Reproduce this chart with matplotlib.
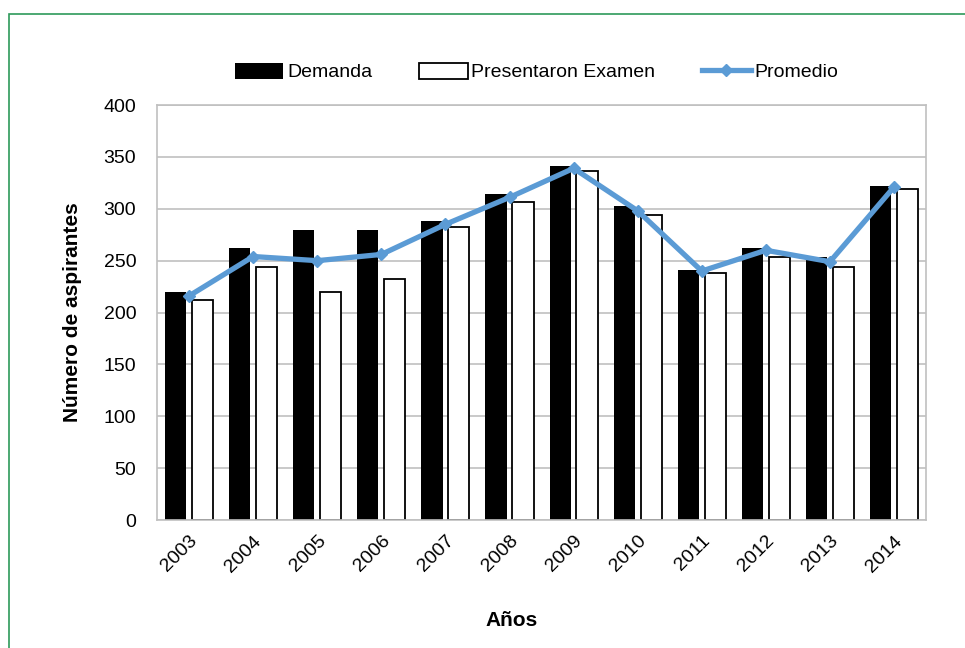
import numpy as np
import matplotlib
matplotlib.use('Agg')
import matplotlib.pyplot as plt
from matplotlib.patches import Rectangle

plt.rcParams['font.family'] = ['Liberation Sans', 'DejaVu Sans']

years = ['2003', '2004', '2005', '2006', '2007', '2008',
         '2009', '2010', '2011', '2012', '2013', '2014']
demanda = [220, 262, 280, 280, 288, 314, 341, 303, 241, 262, 254, 322]
presentaron = [212, 244, 220, 232, 282, 307, 336, 294, 238, 254, 244, 319]
promedio = [216, 254, 250, 256, 285, 311, 339, 298, 240, 260, 249, 321]

x = np.arange(len(years))
w = 0.33

fig = plt.figure(figsize=(9.65, 6.48), dpi=100)
ax = fig.add_axes([0.1627, 0.1975, 0.797, 0.6404])

# green frame of the original page box (only top and left are visible)
fig.patches.append(Rectangle((0.0093, -0.2), 1.2, 1.178, transform=fig.transFigure,
                             fill=False, edgecolor='#2e9a5a', linewidth=1.2))

b1 = ax.bar(x - 0.21, demanda, w, color='black', label='Demanda', zorder=2)
b2 = ax.bar(x + 0.21, presentaron, w, color='white', edgecolor='black', linewidth=1.3,
            label='Presentaron Examen', zorder=2)
l1, = ax.plot(x, promedio, color='#5b9bd5', linewidth=3.8, marker='D', markersize=6,
              label='Promedio', zorder=3)

ax.set_xlim(-0.5, len(years) - 0.5)
ax.set_ylim(0, 400)
ax.set_yticks(range(0, 401, 50))
ax.set_xticks(x)
ax.set_xticklabels(years, rotation=45, ha='right', rotation_mode='anchor', fontsize=14)
ax.tick_params(axis='y', labelsize=14, length=0, pad=15)
ax.tick_params(axis='x', length=0, pad=9)
ax.yaxis.grid(True, color='#c0c0c0', linewidth=1.2, zorder=0)
ax.set_axisbelow(True)
for s in ax.spines.values():
    s.set_color('#c0c0c0')
    s.set_linewidth(1.2)

ax.set_ylabel('Número de aspirantes', fontsize=15, fontweight='bold')
ax.yaxis.set_label_coords(-0.098, 0.5)
ax.set_xlabel('Años', fontsize=15, fontweight='bold')
ax.xaxis.set_label_coords(0.461, -0.22)

fig.legend([b1, b2, l1], ['Demanda', 'Presentaron Examen', 'Promedio'],
           loc='center', bbox_to_anchor=(0.556, 0.889), ncol=3, frameon=False,
           fontsize=14, handlelength=2.5, handleheight=0.9, handletextpad=0.2,
           columnspacing=2.4)

fig.savefig('out.png', dpi=100)
